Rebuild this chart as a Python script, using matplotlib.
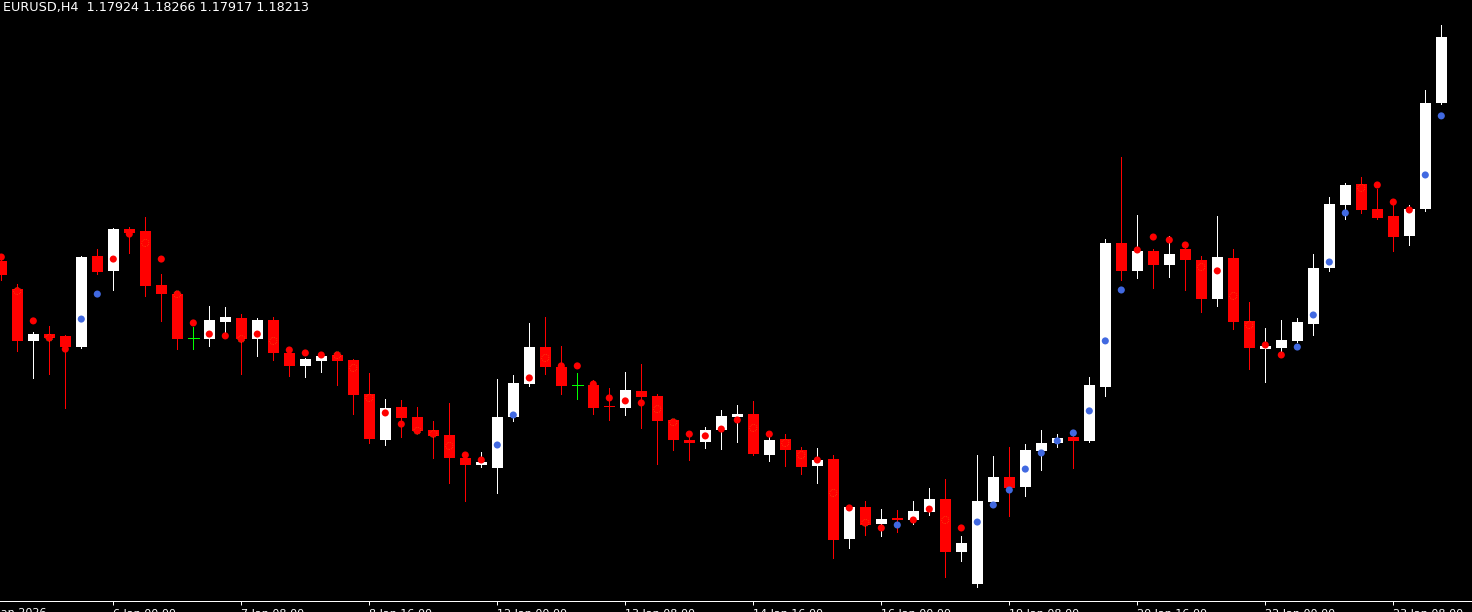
import matplotlib
matplotlib.use("Agg")
import matplotlib.pyplot as plt
import numpy as np

title = "EURUSD,H4  1.17924 1.18266 1.17917 1.18213"

opens = [1.17228, 1.17104, 1.16876, 1.16906, 1.16898, 1.16849, 1.17250, 1.17184, 1.17368, 1.17360,
         1.17122, 1.17082, 1.16889, 1.16884, 1.16959, 1.16977, 1.16884, 1.16968, 1.16823, 1.16766,
         1.16788, 1.16814, 1.16792, 1.16642, 1.16440, 1.16585, 1.16541, 1.16484, 1.16462, 1.16361,
         1.16330, 1.16317, 1.16541, 1.16686, 1.16849, 1.16761, 1.16682, 1.16682, 1.16587, 1.16581,
         1.16656, 1.16634, 1.16528, 1.16440, 1.16431, 1.16484, 1.16541, 1.16554, 1.16374, 1.16444,
         1.16396, 1.16326, 1.16356, 1.16004, 1.16145, 1.16070, 1.16095, 1.16088, 1.16123, 1.16180,
         1.15947, 1.15806, 1.16167, 1.16277, 1.16233, 1.16392, 1.16427, 1.16453, 1.16436, 1.16673,
         1.17307, 1.17184, 1.17272, 1.17210, 1.17280, 1.17232, 1.17060, 1.17241, 1.16964, 1.16840,
         1.16845, 1.16876, 1.16950, 1.17197, 1.17474, 1.17566, 1.17456, 1.17426, 1.17338, 1.17456,
         1.17924]
highs = [1.17250, 1.17126, 1.16915, 1.16942, 1.16902, 1.17250, 1.17280, 1.17373, 1.17377, 1.17421,
         1.17170, 1.17096, 1.16937, 1.17030, 1.17025, 1.16994, 1.16977, 1.16981, 1.16845, 1.16801,
         1.16818, 1.16827, 1.16796, 1.16735, 1.16620, 1.16616, 1.16585, 1.16524, 1.16603, 1.16383,
         1.16387, 1.16708, 1.16726, 1.16955, 1.16981, 1.16854, 1.16735, 1.16704, 1.16669, 1.16739,
         1.16774, 1.16642, 1.16532, 1.16466, 1.16497, 1.16572, 1.16594, 1.16612, 1.16462, 1.16466,
         1.16409, 1.16405, 1.16374, 1.16150, 1.16172, 1.16136, 1.16132, 1.16172, 1.16229, 1.16268,
         1.16018, 1.16374, 1.16370, 1.16409, 1.16422, 1.16484, 1.16466, 1.16462, 1.16717, 1.17324,
         1.17685, 1.17430, 1.17280, 1.17338, 1.17289, 1.17250, 1.17426, 1.17280, 1.17047, 1.16933,
         1.16968, 1.16977, 1.17258, 1.17509, 1.17571, 1.17597, 1.17544, 1.17474, 1.17474, 1.17980,
         1.18266]
lows = [1.17144, 1.16832, 1.16713, 1.16730, 1.16581, 1.16845, 1.17170, 1.17100, 1.17263, 1.17074,
        1.16964, 1.16840, 1.16840, 1.16854, 1.16911, 1.16730, 1.16810, 1.16792, 1.16722, 1.16717,
        1.16739, 1.16682, 1.16554, 1.16427, 1.16418, 1.16453, 1.16471, 1.16361, 1.16251, 1.16172,
        1.16321, 1.16207, 1.16524, 1.16678, 1.16730, 1.16642, 1.16620, 1.16554, 1.16528, 1.16550,
        1.16493, 1.16334, 1.16396, 1.16352, 1.16405, 1.16400, 1.16431, 1.16374, 1.16348, 1.16326,
        1.16290, 1.16251, 1.15921, 1.15965, 1.16022, 1.16018, 1.16035, 1.16070, 1.16110, 1.15837,
        1.15908, 1.15793, 1.16163, 1.16106, 1.16194, 1.16308, 1.16409, 1.16317, 1.16431, 1.16634,
        1.17144, 1.17153, 1.17109, 1.17157, 1.17100, 1.17003, 1.17030, 1.16928, 1.16752, 1.16695,
        1.16832, 1.16871, 1.16902, 1.17184, 1.17412, 1.17439, 1.17412, 1.17272, 1.17298, 1.17448,
        1.17917]
closes = [1.17166, 1.16876, 1.16906, 1.16889, 1.16849, 1.17245, 1.17179, 1.17368, 1.17351, 1.17118,
          1.17082, 1.16884, 1.16889, 1.16968, 1.16981, 1.16884, 1.16968, 1.16823, 1.16766, 1.16796,
          1.16810, 1.16788, 1.16638, 1.16444, 1.16581, 1.16537, 1.16480, 1.16458, 1.16361, 1.16330,
          1.16343, 1.16541, 1.16691, 1.16849, 1.16761, 1.16678, 1.16682, 1.16581, 1.16583, 1.16660,
          1.16629, 1.16524, 1.16440, 1.16427, 1.16484, 1.16546, 1.16554, 1.16378, 1.16440, 1.16396,
          1.16321, 1.16352, 1.16000, 1.16145, 1.16066, 1.16092, 1.16090, 1.16128, 1.16180, 1.15947,
          1.15987, 1.16172, 1.16277, 1.16229, 1.16396, 1.16427, 1.16449, 1.16436, 1.16682, 1.17307,
          1.17184, 1.17272, 1.17210, 1.17258, 1.17232, 1.17060, 1.17245, 1.16959, 1.16845, 1.16854,
          1.16880, 1.16959, 1.17197, 1.17478, 1.17562, 1.17452, 1.17417, 1.17333, 1.17456, 1.17923,
          1.18213]
dot_values = [1.17245, 1.17096, 1.16964, 1.16889, 1.16840, 1.16972, 1.17082, 1.17236, 1.17346, 1.17307,
              1.17236, 1.17082, 1.16955, 1.16906, 1.16898, 1.16884, 1.16906, 1.16876, 1.16836, 1.16823,
              1.16814, 1.16814, 1.16757, 1.16625, 1.16559, 1.16510, 1.16480, 1.16466, 1.16414, 1.16374,
              1.16352, 1.16418, 1.16550, 1.16713, 1.16801, 1.16766, 1.16766, 1.16686, 1.16625, 1.16612,
              1.16603, 1.16576, 1.16519, 1.16466, 1.16458, 1.16488, 1.16528, 1.16493, 1.16466, 1.16427,
              1.16374, 1.16352, 1.16207, 1.16141, 1.16075, 1.16053, 1.16066, 1.16088, 1.16136, 1.16088,
              1.16053, 1.16079, 1.16154, 1.16220, 1.16312, 1.16383, 1.16436, 1.16471, 1.16568, 1.16876,
              1.17100, 1.17276, 1.17333, 1.17320, 1.17298, 1.17201, 1.17184, 1.17074, 1.16946, 1.16858,
              1.16814, 1.16849, 1.16990, 1.17223, 1.17439, 1.17549, 1.17562, 1.17487, 1.17452, 1.17606,
              1.17866]
dot_kind = ("rrrrrbbrrr" "rrrrrrrrrr" "rrrrrrrrrr" "rbbrrrrrrr" "rrrrrrrrrr"
            "rrrrrrbrrr" "rbbbbbbbbb" "brrrrrrrrr" "rbbbbrrrrb" "b")

tick_index = [-1, 7, 15, 23, 31, 39, 47, 55, 63, 71, 79, 87]
tick_labels = ["5 Jan 2026", "6 Jan 00:00", "7 Jan 08:00", "8 Jan 16:00", "12 Jan 00:00",
               "13 Jan 08:00", "14 Jan 16:00", "16 Jan 00:00", "19 Jan 08:00", "20 Jan 16:00",
               "22 Jan 00:00", "23 Jan 08:00"]

W, H = 1472, 612
fig = plt.figure(figsize=(W / 100, H / 100), dpi=100, facecolor="black")
ax = fig.add_axes([0, 11 / H, 1, 601 / H], facecolor="black")

n = len(opens)
x = np.arange(n)
o = np.array(opens); h = np.array(highs); l = np.array(lows); c = np.array(closes)

UP = "#FFFFFF"; DN = "#FF0000"; DOJI = "#00FF00"
px = (1.183758 - 1.157316) / 601.0
bw = 11 / 16
LW = 0.72  # one pixel

wick_col = [UP if c[i] > o[i] else (DOJI if c[i] == o[i] else DN) for i in range(n)]
ax.vlines(x, l, h, colors=wick_col, linewidth=LW, antialiased=False, zorder=1)

for i in range(n):
    if c[i] == o[i]:
        ax.hlines(o[i], i - bw / 2, i + bw / 2, colors=DOJI, linewidth=LW,
                  antialiased=False, zorder=2)
        continue
    col = UP if c[i] > o[i] else DN
    lo = min(o[i], c[i]); hgt = max(abs(c[i] - o[i]), px)
    ax.bar(i, hgt, bottom=lo, width=bw, color=col, linewidth=0,
           antialiased=False, zorder=2)

dv = np.array(dot_values)
dcol = ["#FF0000" if k == "r" else "#4169E1" for k in dot_kind]
ax.scatter(x, dv, s=26, c=dcol, linewidths=0, zorder=3)

# faint dotted ring where a red dot sits on a red body
ring = [i for i in range(n) if dot_kind[i] == "r" and c[i] < o[i] and c[i] <= dv[i] <= o[i]]
ax.scatter(x[ring], dv[ring], s=26, facecolors="none", edgecolors="#E8A020",
           linewidths=0.45, linestyle=(0, (1, 2)), alpha=0.75, zorder=4)

ax.set_xlim((0 - 1.3) / 16, (W - 1.3) / 16)
ax.set_ylim(1.157316, 1.183758)

for s in ["top", "left", "right"]:
    ax.spines[s].set_visible(False)
ax.spines["bottom"].set_color("white")
ax.spines["bottom"].set_linewidth(LW)
ax.set_yticks([])

vis = [(t, lab) for t, lab in zip(tick_index, tick_labels) if t >= 0]
ax.set_xticks([t for t, _ in vis])
ax.set_xticklabels([lab for _, lab in vis], ha="left", color="white", fontsize=8,
                   family="DejaVu Sans")
ax.tick_params(axis="x", colors="white", length=3, width=LW, pad=3, direction="out")

# first (date-only) label whose tick lies left of the visible area
ax.annotate(tick_labels[0], xy=(tick_index[0], 0), xycoords=("data", "axes fraction"),
            xytext=(1.5, -5.2), textcoords="offset points", color="white", fontsize=8,
            family="DejaVu Sans", ha="left", va="top", annotation_clip=False)

fig.text(3 / W, 1 - 1 / H, title, color="white", fontsize=9.2, family="DejaVu Sans",
         ha="left", va="top")

fig.savefig("out.png", dpi=100, facecolor="black")
